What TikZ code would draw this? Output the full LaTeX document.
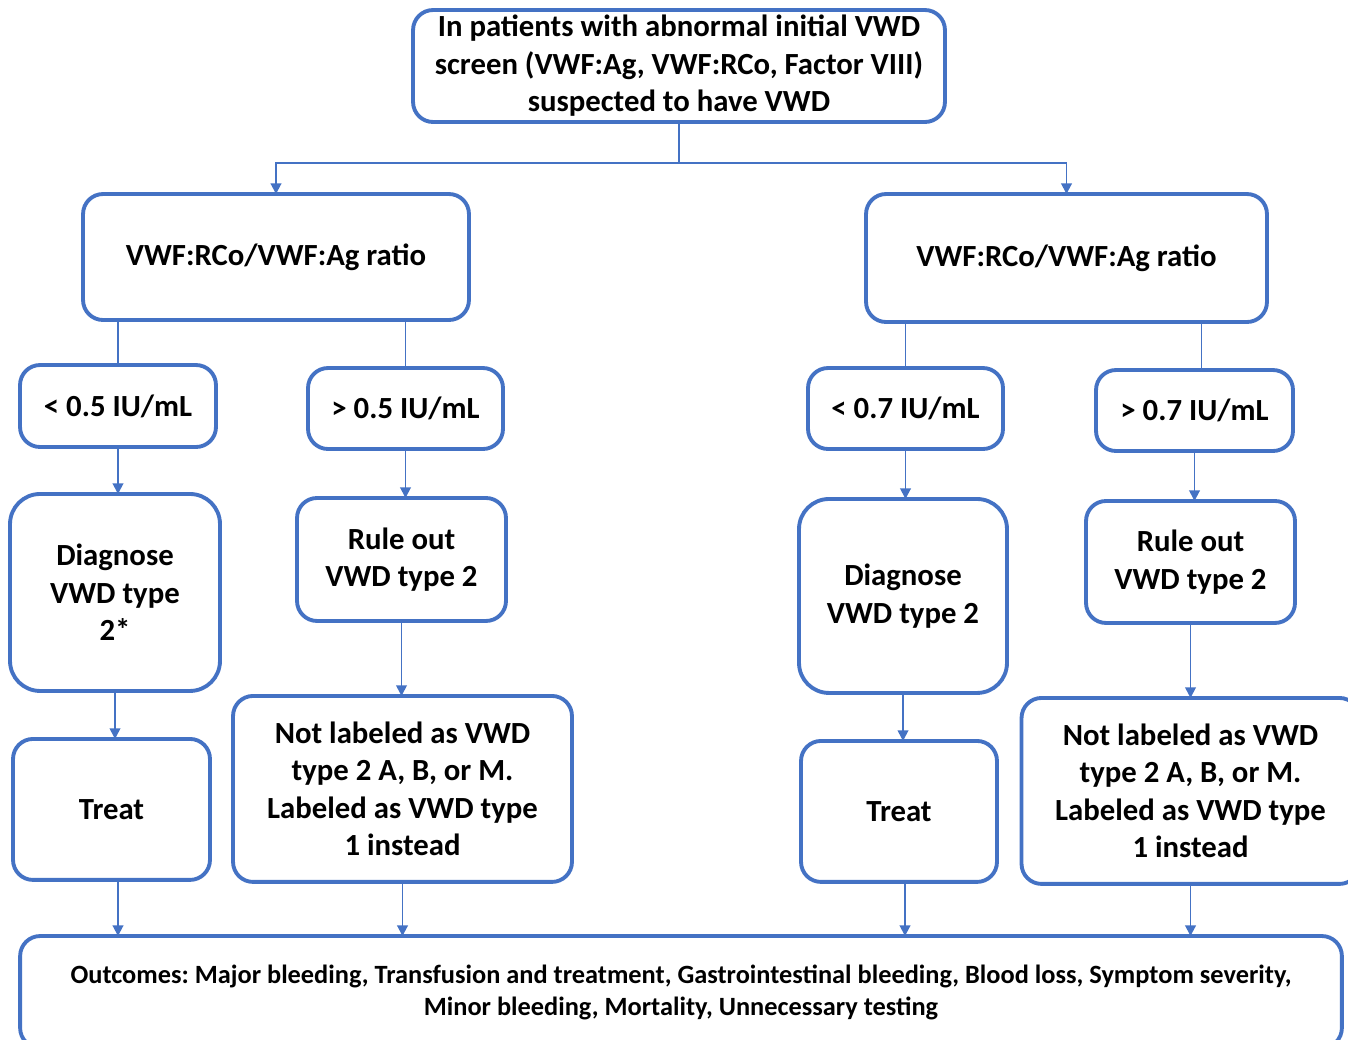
\documentclass[tikz,border=0pt]{standalone}
\usepackage{fontspec}
\setmainfont{Carlito}
\frenchspacing
\usepackage{xcolor}
\usepackage{tikz}
\usetikzlibrary{arrows.meta, positioning}
\definecolor{vwdblue}{HTML}{4472C4}
\tikzstyle{box} = [rectangle, rounded corners=0.4cm, draw=vwdblue, line width=2.2pt, outer sep=0pt, fill=white, align=center, inner sep=2pt, font=\bfseries\fontsize{17.5}{21.3}\selectfont]
\tikzstyle{tallbox} = [box, rounded corners=0.6cm]
\tikzstyle{link} = [draw=vwdblue, line width=1.1pt]
\tikzstyle{arrow} = [link, -{Triangle[width=6pt,length=6pt]}]

\begin{document}
\begin{tikzpicture}[x=0.02cm, y=-0.02cm]
    \useasboundingbox (0,0) rectangle (1348,1039);
    % Screen
    \node[box, minimum width=10.64cm, minimum height=2.24cm] (screen) at (679,66) {In patients with abnormal initial VWD\\
        screen (VWF:Ag, VWF:RCo, Factor VIII)\\
        suspected to have VWD};

    % Ratio
    \node[box, minimum width=7.72cm, minimum height=2.52cm] (ratioL) at (276,257) {VWF:RCo/VWF:Ag ratio};
    \node[box, minimum width=8.02cm, minimum height=2.56cm] (ratioR) at (1066.5,258) {VWF:RCo/VWF:Ag ratio};

    % Cut-offs
    \node[box, minimum width=3.92cm, minimum height=1.64cm] (lowL) at (118,406) {< 0.5 IU/mL};
    \node[box, minimum width=3.90cm, minimum height=1.62cm] (highL) at (405.5,408.5) {> 0.5 IU/mL};
    \node[box, minimum width=3.90cm, minimum height=1.62cm] (lowR) at (905.5,408.5) {< 0.7 IU/mL};
    \node[box, minimum width=3.94cm, minimum height=1.62cm] (highR) at (1194.5,410.5) {> 0.7 IU/mL};

    % Left branch
    \node[tallbox, below=0.94cm of lowL, xshift=-0.06cm, minimum width=4.20cm, minimum height=3.94cm] (diagL) {Diagnose\\
        VWD type\\
        2*};
    \node[box, below=0.96cm of diagL, xshift=-0.07cm, minimum width=3.94cm, minimum height=2.82cm] (treatL) {Treat};
    \node[box, below=0.98cm of highL, xshift=-0.08cm, minimum width=4.18cm, minimum height=2.46cm] (ruleL) {Rule out\\
        VWD type 2};
    \node[box, below=1.5cm of ruleL, xshift=0.02cm, minimum width=6.78cm, minimum height=3.72cm] (notL) {Not labeled as VWD\\
        type 2 A, B, or M.\\
        Labeled as VWD type\\
        1 instead};

    % Right branch
    \node[tallbox, below=1.0cm of lowR, xshift=-0.05cm, minimum width=4.16cm, minimum height=3.88cm] (diagR) {Diagnose\\
        VWD type 2};
    \node[box, below=0.96cm of diagR, xshift=-0.08cm, minimum width=3.92cm, minimum height=2.82cm] (treatR) {Treat};
    \node[box, below=1.0cm of highR, xshift=-0.08cm, minimum width=4.18cm, minimum height=2.44cm] (ruleR) {Rule out\\
        VWD type 2};
    \node[box, below=1.5cm of ruleR, minimum width=6.76cm, minimum height=3.72cm] (notR) {Not labeled as VWD\\
        type 2 A, B, or M.\\
        Labeled as VWD type\\
        1 instead};

    % Outcomes
    \node[box, minimum width=26.44cm, minimum height=2.24cm, font=\bfseries\fontsize{15}{18.2}\selectfont] (outc) at (681,992) {Outcomes: Major bleeding, Transfusion and treatment, Gastrointestinal bleeding, Blood loss, Symptom severity,\\
        Minor bleeding, Mortality, Unnecessary testing};

    % Connections
    \draw[arrow] (screen.south) -- ++(0,41) coordinate (split) -| (ratioL.north);
    \draw[arrow] (split) -| (ratioR.north);
    \draw[link] (ratioL.south -| lowL) -- (lowL.north);
    \draw[link] (ratioL.south -| highL) -- (highL.north);
    \draw[link] (ratioR.south -| lowR) -- (lowR.north);
    \draw[link] ([xshift=0.14cm]ratioR.south -| highR) -- ([xshift=0.14cm]highR.north);
    \draw[arrow] (lowL.south) -- (lowL.south |- diagL.north);
    \draw[arrow] (diagL.south) -- (diagL.south |- treatL.north);
    \draw[arrow] (highL.south) -- (highL.south |- ruleL.north);
    \draw[arrow] (ruleL.south) -- (ruleL.south |- notL.north);
    \draw[arrow] (lowR.south) -- (lowR.south |- diagR.north);
    \draw[arrow] (diagR.south) -- (diagR.south |- treatR.north);
    \draw[arrow] (highR.south) -- (highR.south |- ruleR.north);
    \draw[arrow] (ruleR.south) -- (ruleR.south |- notR.north);
    \draw[arrow] ([xshift=0.13cm]treatL.south) -- ([xshift=0.13cm]treatL.south |- outc.north);
    \draw[arrow] (notL.south) -- (notL.south |- outc.north);
    \draw[arrow] ([xshift=0.12cm]treatR.south) -- ([xshift=0.12cm]treatR.south |- outc.north);
    \draw[arrow] (notR.south) -- (notR.south |- outc.north);
\end{tikzpicture}
\end{document}
